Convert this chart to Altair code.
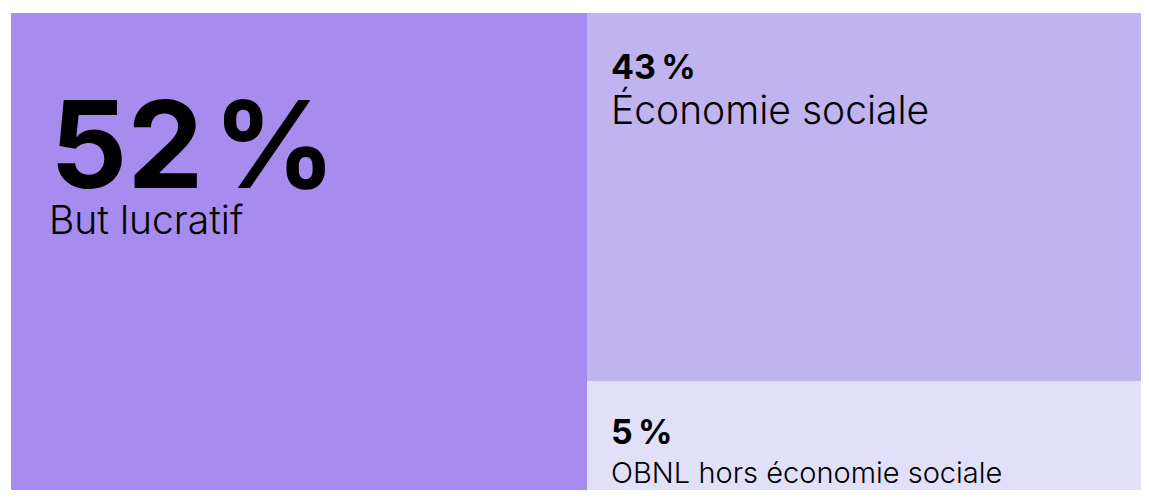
import altair as alt
import pandas as pd

# ---- data ----
categories = ["But lucratif", "Économie sociale", "OBNL hors économie sociale"]
values = [52, 43, 5]
pct_labels = ["52\u200a%", "43\u2009%", "5\u2009%"]

# colours (style)
colors = ["#A78CF0", "#C0B4F0", "#E2E0F8"]

# ---- treemap layout (slice-and-dice from the values) ----
left = values[0]
right_total = values[1] + values[2]
rows = [
    dict(cat=categories[0], pct=pct_labels[0], x0=0, x1=left, y0=0, y1=right_total),
    dict(cat=categories[1], pct=pct_labels[1], x0=left, x1=left + right_total, y0=0, y1=values[1]),
    dict(cat=categories[2], pct=pct_labels[2], x0=left, x1=left + right_total, y0=values[1], y1=right_total),
]
df = pd.DataFrame(rows)

W, H = 1130, 477
xscale = alt.Scale(domain=[0, left, left + right_total], range=[0, 576, W])
yscale = alt.Scale(domain=[0, values[1], right_total], range=[0, 368, H])

base = alt.Chart(df)

rects = base.mark_rect(stroke=None).encode(
    x=alt.X("x0:Q", scale=xscale, axis=None),
    x2="x1:Q",
    y=alt.Y("y0:Q", scale=yscale, axis=None),
    y2="y1:Q",
    color=alt.Color("cat:N", scale=alt.Scale(domain=categories, range=colors), legend=None),
)

FONT = "Inter"

def label(cat, field, dx, dy, size, weight):
    return base.transform_filter(alt.datum.cat == cat).mark_text(
        align="left", baseline="alphabetic", dx=dx, dy=dy,
        fontSize=size, fontWeight=weight, font=FONT, color="#000000",
    ).encode(
        x=alt.X("x0:Q", scale=xscale, axis=None),
        y=alt.Y("y0:Q", scale=yscale, axis=None),
        text=f"{field}:N",
    )

layers = [
    rects,
    label(categories[0], "pct", 39, 175, 121, 700),
    label(categories[0], "cat", 38, 221, 39, 300),
    label(categories[1], "pct", 24, 66, 34, 700),
    label(categories[1], "cat", 24, 111, 39, 300),
    label(categories[2], "pct", 24, 63, 34, 700),
    label(categories[2], "cat", 24, 102, 29, 300),
]

chart = alt.layer(*layers).properties(
    width=W, height=H,
    padding={"left": 3, "top": 5, "right": 0, "bottom": 0},
    autosize=alt.AutoSizeParams(type="none"),
).configure_view(stroke=None)

chart.save("out.html", embed_options={"renderer": "svg", "actions": False})
